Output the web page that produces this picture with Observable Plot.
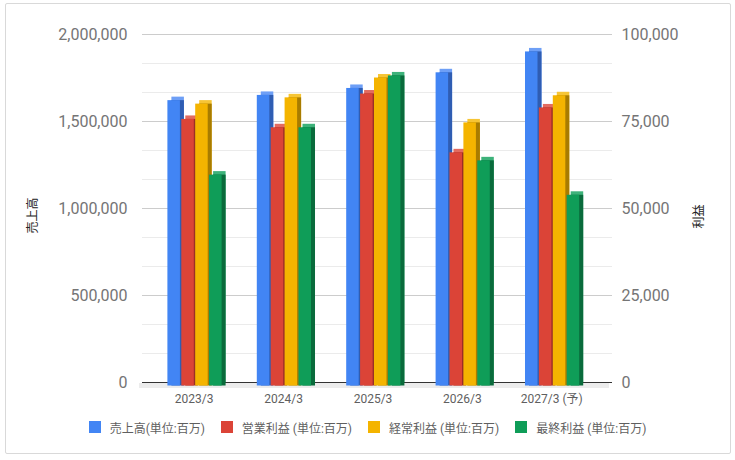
<!DOCTYPE html>
<html>
<head>
<meta charset="utf-8">
<script src="https://cdn.jsdelivr.net/npm/d3@7"></script>
<script src="https://cdn.jsdelivr.net/npm/@observablehq/plot@0.6"></script>
<style>
  html, body { margin: 0; padding: 0; background: #fff; }
  #wrap { position: relative; width: 735px; height: 460px; font-family: Roboto, "Noto Sans CJK JP", sans-serif; }
  #border { position: absolute; left: 5px; top: 3px; width: 724px; height: 449px; border: 1px solid #d9d9d9; border-radius: 2px; box-sizing: content-box; }
  .layer { position: absolute; left: 0; top: 0; }
  #legend { position: absolute; left: 0; top: 419px; width: 735px; height: 16px; display: flex; justify-content: center; align-items: center; font-size: 12px; color: #5f5f5f; }
  .item { display: flex; align-items: center; margin: 0 8px; }
  .sw { width: 12px; height: 12px; margin-right: 9px; }
</style>
</head>
<body>
<div id="wrap">
  <div id="border"></div>
  <div id="base" class="layer"></div>
  <div id="bars" class="layer"></div>
  <div id="legend"></div>
</div>
<script>
const categories = ["2023/3", "2024/3", "2025/3", "2026/3", "2027/3 (予)"];
const seriesNames = ["売上高(単位:百万)", "営業利益 (単位:百万)", "経常利益 (単位:百万)", "最終利益 (単位:百万)"];
const sales     = [1640000, 1670000, 1710000, 1800000, 1920000];
const opProfit  = [76600, 74200, 83900, 67000, 79900];
const ordProfit = [81000, 82800, 88500, 75600, 83400];
const netProfit = [60600, 74200, 89100, 64700, 54800];
const leftTicks = [0, 500000, 1000000, 1500000, 2000000];
const yMax = 2000000;
const rightMax = 100000;

const mainColors = ["#4285f4", "#db4437", "#f4b400", "#0f9d58"];
const capColors  = ["#6e9ff6", "#e36b60", "#f6c535", "#3db27a"];
const sideColors = ["#2f5db3", "#9a2f26", "#a87c00", "#0a6b3c"];

const seriesValues = [sales, opProfit, ordProfit, netProfit];
const rows = [];
categories.forEach((c, i) => {
  seriesNames.forEach((s, j) => {
    rows.push({category: c, series: s, idx: j, value: seriesValues[j][i], left: j === 0});
  });
});
const ratio = yMax / rightMax;
const yv = d => d.left ? d.value : d.value * ratio;

const font = 'Roboto, "Noto Sans CJK JP", sans-serif';
const common = {width: 735, height: 410, marginLeft: 142, marginRight: 123, marginTop: 34, marginBottom: 28};

const step = 500000 / 3;
const minor = d3.range(1, 12).filter(k => k % 3 !== 0).map(k => k * step);

const base = Plot.plot({
  ...common,
  style: {fontFamily: font, background: "transparent"},
  y: {domain: [0, yMax]},
  marks: [
    Plot.ruleY(minor, {stroke: "#ebebeb"}),
    Plot.ruleY(leftTicks.slice(1), {stroke: "#cccccc"}),
    Plot.ruleY([0], {stroke: "#ececec", strokeWidth: 5, dy: 3, dx: -3}),
    Plot.ruleY([0], {stroke: "#333333"}),
    Plot.axisY(leftTicks, {anchor: "left", tickSize: 0, tickPadding: 15, fontSize: 16, fill: "#757575", tickFormat: d3.format(","), label: null}),
    Plot.axisY(leftTicks, {anchor: "right", tickSize: 0, tickPadding: 9, fontSize: 16, fill: "#757575", tickFormat: d => d3.format(",")(d / ratio), label: null}),
    Plot.text(["売上高"], {frameAnchor: "left", textAnchor: "middle", dx: -109, dy: 7, rotate: -90, fontSize: 12, fill: "#222"}),
    Plot.text(["利益"], {frameAnchor: "right", textAnchor: "middle", dx: 87, dy: 8, rotate: -90, fontSize: 12, fill: "#222"})
  ]
});

const bars = Plot.plot({
  ...common,
  style: {fontFamily: font, background: "transparent"},
  fx: {domain: categories, range: [149, 596], padding: 0, round: false, label: null},
  x: {domain: seriesNames, range: [142 + 17.7, 142 + 73.3], paddingInner: 0.1, paddingOuter: 0.05, round: false, axis: null},
  y: {domain: [0, yMax], axis: null},
  marks: [
    Plot.barY(rows, {fx: "category", x: "series", y: yv, fill: d => capColors[d.idx], dx: 4}),
    Plot.barY(rows, {fx: "category", x: "series", y: yv, fill: d => sideColors[d.idx], dx: 4, dy: 3.5}),
    Plot.barY(rows, {fx: "category", x: "series", y: yv, fill: d => mainColors[d.idx], dy: 3.5}),
    Plot.axisFx({anchor: "bottom", tickSize: 0, tickPadding: 12, fontSize: 12, fill: "#5f5f5f", label: null})
  ]
});

document.getElementById("base").appendChild(base);
document.getElementById("bars").appendChild(bars);

const legend = document.getElementById("legend");
seriesNames.forEach((s, j) => {
  const item = document.createElement("div");
  item.className = "item";
  const sw = document.createElement("div");
  sw.className = "sw";
  sw.style.background = mainColors[j];
  const t = document.createElement("span");
  t.textContent = s;
  item.appendChild(sw);
  item.appendChild(t);
  legend.appendChild(item);
});
</script>
</body>
</html>
